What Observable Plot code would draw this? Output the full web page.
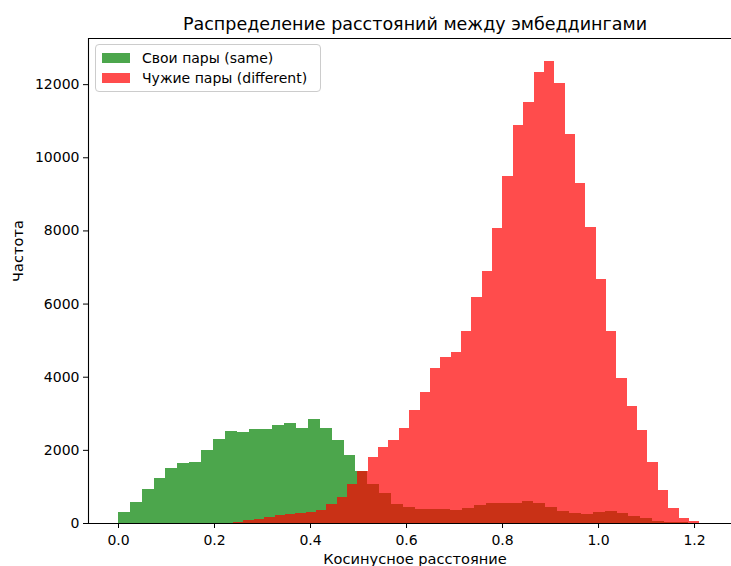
<!DOCTYPE html>
<html>
<head>
<meta charset="utf-8">
<script src="https://cdn.jsdelivr.net/npm/d3@7"></script>
<script src="https://cdn.jsdelivr.net/npm/@observablehq/plot@0.6"></script>
<style>
  html, body { margin: 0; padding: 0; background: white; }
  #wrap { position: relative; width: 731px; height: 566px; overflow: hidden; font-family: "DejaVu Sans", sans-serif; }
  #legend { position: absolute; left: 95px; top: 44px; width: 224px; height: 46px; border: 1px solid #cccccc; border-radius: 4px; background: rgba(255,255,255,0.8); font-size: 14px; }
  .row { position: absolute; left: 0; height: 20px; display: flex; align-items: center; white-space: nowrap; }
  .patch { display: inline-block; width: 28px; height: 10px; margin-left: 6px; margin-right: 12px; }
</style>
</head>
<body>
<div id="wrap"></div>
<script>
// ---- data ----
const title = "Распределение расстояний между эмбеддингами";
const xLabel = "Косинусное расстояние";
const yLabel = "Частота";
const seriesNames = ["Свои пары (same)", "Чужие пары (different)"];
const seriesColors = ["green", "red"];

// "same" histogram: 50 bins starting at 0.0
const sameBinStart = 0.0;
const sameBinWidth = 0.02473;
const sameCounts = [309, 582, 921, 1238, 1495, 1632, 1659, 1996, 2288, 2515,
  2497, 2560, 2560, 2679, 2743, 2607, 2843, 2588, 2269, 1859,
  1430, 1057, 811, 519, 446, 374, 374, 374, 360, 420,
  495, 545, 555, 560, 597, 555, 445, 336, 282, 246,
  292, 328, 264, 200, 128, 64, 36, 18, 8, 3];

// "different" histogram: visible bins starting at 0.2398
const diffBinStart = 0.2398;
const diffBinWidth = 0.02158;
const diffCounts = [36, 82, 109, 155, 210, 246, 264, 292, 355, 519,
  702, 1057, 1430, 1813, 2070, 2265, 2610, 3095, 3590, 4229,
  4535, 4683, 5263, 6178, 6893, 8056, 9494, 10880, 11501, 12329,
  12638, 12028, 10626, 9303, 8100, 6679, 5249, 3956, 3198, 2542,
  1676, 902, 418, 128, 55];

const xDomain = [-0.0625, 1.277];
const yDomain = [0, 13262];
const xTicks = [0, 0.2, 0.4, 0.6, 0.8, 1.0, 1.2];
const yTicks = [0, 2000, 4000, 6000, 8000, 10000, 12000];

// ---- tables built from the arrays ----
const sameRows = sameCounts.map((c, i) => ({x1: sameBinStart + i * sameBinWidth, x2: sameBinStart + (i + 1) * sameBinWidth, count: c}));
const diffRows = diffCounts.map((c, i) => ({x1: diffBinStart + i * diffBinWidth, x2: diffBinStart + (i + 1) * diffBinWidth, count: c}));

const chart = Plot.plot({
  width: 731,
  height: 566,
  marginLeft: 88,
  marginRight: 0,
  marginTop: 38,
  marginBottom: 43,
  style: {fontFamily: "DejaVu Sans", fontSize: "14px", color: "black", background: "white"},
  x: {domain: xDomain, ticks: xTicks, tickFormat: d3.format(".1f"), tickSize: 5, tickPadding: 7, label: null},
  y: {domain: yDomain, ticks: yTicks, tickFormat: d => String(d), tickSize: 5, tickPadding: 4, label: null},
  marks: [
    Plot.rect(sameRows, {x1: "x1", x2: "x2", y1: 0, y2: "count", fill: seriesColors[0], fillOpacity: 0.7, inset: 0, shapeRendering: "crispEdges"}),
    Plot.rect(diffRows, {x1: "x1", x2: "x2", y1: 0, y2: "count", fill: seriesColors[1], fillOpacity: 0.7, inset: 0, shapeRendering: "crispEdges"}),
    Plot.ruleY([yDomain[0], yDomain[1]], {stroke: "black", strokeWidth: 1.1}),
    Plot.ruleX([xDomain[0]], {stroke: "black", strokeWidth: 1.1}),
    Plot.text([title], {frameAnchor: "top", dy: -21, dx: 5, fontSize: 17.5, fill: "black"}),
    Plot.text([xLabel], {frameAnchor: "bottom", dy: 40, dx: 5, fontSize: 14.6, fill: "black"}),
    Plot.text([yLabel], {frameAnchor: "left", dx: -70, dy: 1, rotate: -90, fontSize: 14.6, fill: "black"})
  ]
});

const wrap = document.getElementById("wrap");
wrap.appendChild(chart);

const legend = document.createElement("div");
legend.id = "legend";
seriesNames.forEach((name, i) => {
  const row = document.createElement("div");
  row.className = "row";
  row.style.top = (3 + i * 20) + "px";
  const patch = document.createElement("span");
  patch.className = "patch";
  patch.style.background = seriesColors[i];
  patch.style.opacity = 0.7;
  const label = document.createElement("span");
  label.textContent = name;
  row.appendChild(patch);
  row.appendChild(label);
  legend.appendChild(row);
});
wrap.appendChild(legend);
</script>
</body>
</html>
